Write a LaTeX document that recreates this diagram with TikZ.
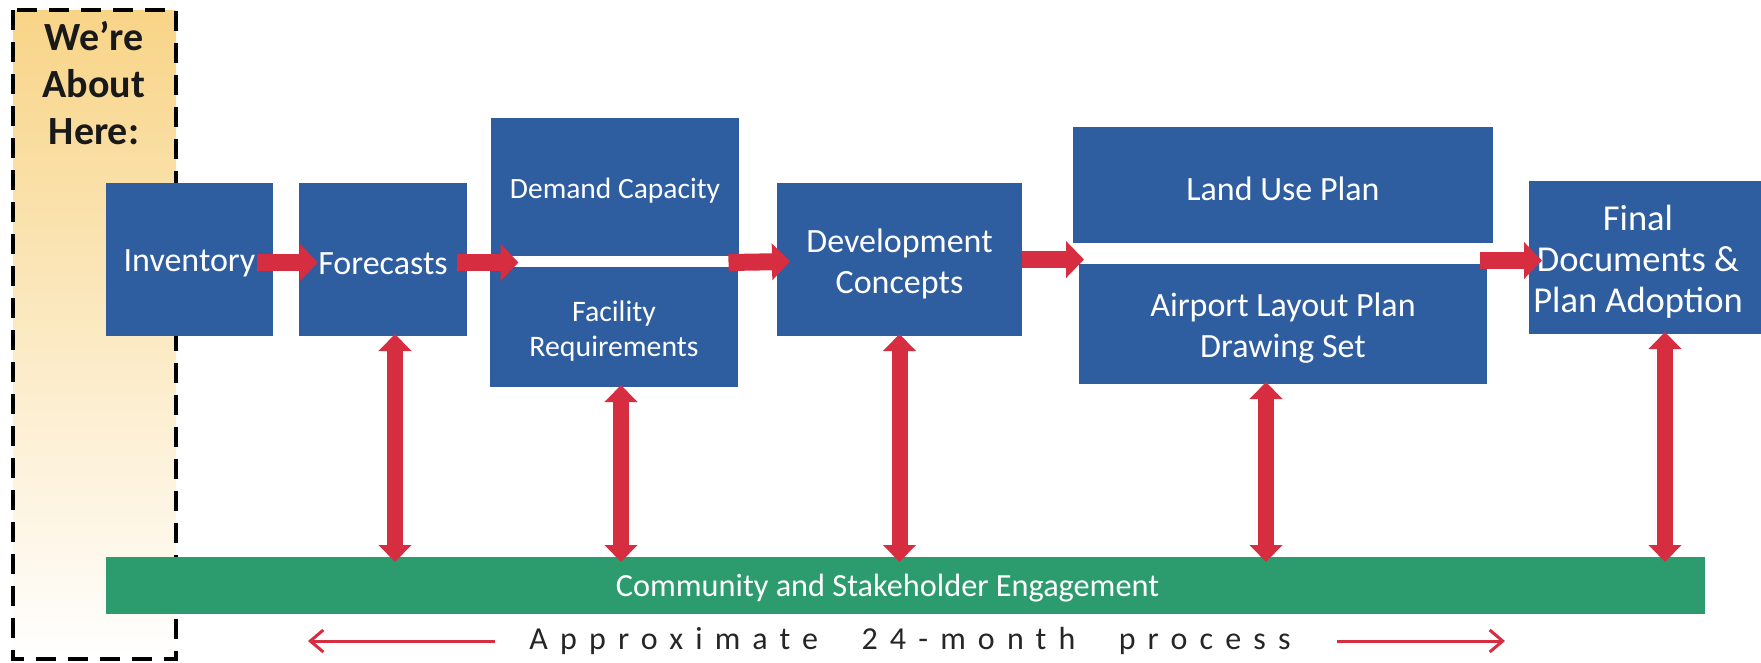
\documentclass[tikz,border=0pt]{standalone}
\usepackage{fontspec}
\setmainfont{Carlito}
\usetikzlibrary{arrows.meta,calc}
\definecolor{myblue}{RGB}{46,93,160}
\definecolor{myred}{RGB}{215,45,65}
\definecolor{mygreen}{RGB}{44,156,111}
\definecolor{mygold}{RGB}{248,212,135}
\begin{document}
\begin{tikzpicture}[x=1pt,y=-1pt,
  box/.style={fill=myblue, inner sep=0pt, outer sep=0pt, anchor=north west},
  txt/.style={text=white, align=center, yshift=-4pt, font=\fontsize{34}{41}\selectfont},
  harr/.style={draw=myred, line width=17pt, -{Triangle[width=36pt,length=18pt]}},
  varr/.style={draw=myred, line width=16pt,
    {Triangle[width=32pt,length=17pt]}-{Triangle[width=32pt,length=17pt]}},
  thinarr/.style={draw=myred, line width=3pt, -{Straight Barb[length=13pt,width=22pt]}},
]
\useasboundingbox (0,0) rectangle (1761,662);
% "We're about here" zone
\path[top color=mygold, bottom color=white] (13,10) rectangle (176,659);
\draw[line width=4pt, dash pattern=on 20pt off 12pt] (13,10) rectangle (176,659);
\node[font=\bfseries\fontsize{40}{47}\selectfont, align=center, text=black!90] (here) at (94,83) {We’re\\About\\Here:};

% process boxes
\node[box, minimum width=167pt, minimum height=153pt,
  label={[txt]center:Inventory}] (inv) at (106,183) {};
\node[box, minimum width=168pt, minimum height=153pt,
  label={[txt]center:Forecasts}] (fc) at (299,183) {};
\node[box, minimum width=248pt, minimum height=138pt,
  label={[txt, font=\fontsize{29.5}{35}\selectfont]center:Demand Capacity}] (dem) at (491,118) {};
\node[box, minimum width=248pt, minimum height=120pt,
  label={[txt, font=\fontsize{29.8}{35}\selectfont]center:{Facility\\Requirements}}] (fac) at (490,267) {};
\node[box, minimum width=245pt, minimum height=153pt,
  label={[txt]center:{Development\\Concepts}}] (dev) at (777,183) {};
\node[box, minimum width=420pt, minimum height=116pt,
  label={[txt]center:Land Use Plan}] (lu) at (1073,127) {};
\node[box, minimum width=408pt, minimum height=120pt,
  label={[txt]center:{Airport Layout Plan\\Drawing Set}}] (ap) at (1079,264) {};
\node[box, minimum width=232pt, minimum height=153pt,
  label={[txt, xshift=-7pt, font=\fontsize{36.5}{41}\selectfont]center:{Final\\Documents \&\\Plan Adoption}}] (fin) at (1529,181) {};
\node[box, fill=mygreen, minimum width=1599pt, minimum height=57pt,
  label={[txt, xshift=-18pt, yshift=1pt, font=\fontsize{32.3}{38}\selectfont]center:Community and Stakeholder Engagement}] (gr) at (106,557) {};

% helper coordinates
\coordinate (dfw) at ($(dem.south west)!0.5!(fac.north west)$);
\coordinate (dfe) at ($(dem.south east)!0.5!(fac.north east)$);
\coordinate (luw) at ($(lu.south west)!0.5!(ap.north west)$);

% horizontal flow arrows
\draw[harr] ($(inv.east)+(-16,3)$) -- ($(fc.west)+(19,3)$);
\draw[harr] ($(fc.east)+(-10,3)$) -- ($(dfw)+(28,1)$);
\draw[harr] ($(dfe)+(-10,1)$) -- ($(dev.west)+(13,2)$);
\draw[harr] (dev.east) -- ($(dev.east -| luw)+(8,0)$);
\draw[harr] ($(fin.west -| ap.east)+(-7,3)$) -- ($(fin.west)+(13,3)$);

% vertical engagement arrows
\coordinate (v1) at ($(fc.south)+(12,0)$);
\coordinate (v2) at ($(fac.south)+(7,0)$);
\coordinate (v3) at (dev.south);
\coordinate (v4) at ($(ap.south)+(-17,0)$);
\coordinate (v5) at ($(fin.south)+(20,0)$);
\foreach \v in {v1,v2,v3,v4,v5}{
  \draw[varr, shorten <=-2pt, shorten >=-5pt] (\v) -- (\v |- gr.north);
}

% timeline
\node[font=\fontsize{32}{36}\selectfont\addfontfeature{LetterSpace=38}, text=black!85] (apx) at (910,641) {Approximate\hspace{24pt} 24-month\hspace{24pt} process};
\coordinate (la1) at (495,641);
\coordinate (la2) at (308,641);
\coordinate (ra1) at (1337,641);
\coordinate (ra2) at (1505,641);
\draw[thinarr] (la1) -- (la2);
\draw[thinarr] (ra1) -- (ra2);
\end{tikzpicture}
\end{document}
